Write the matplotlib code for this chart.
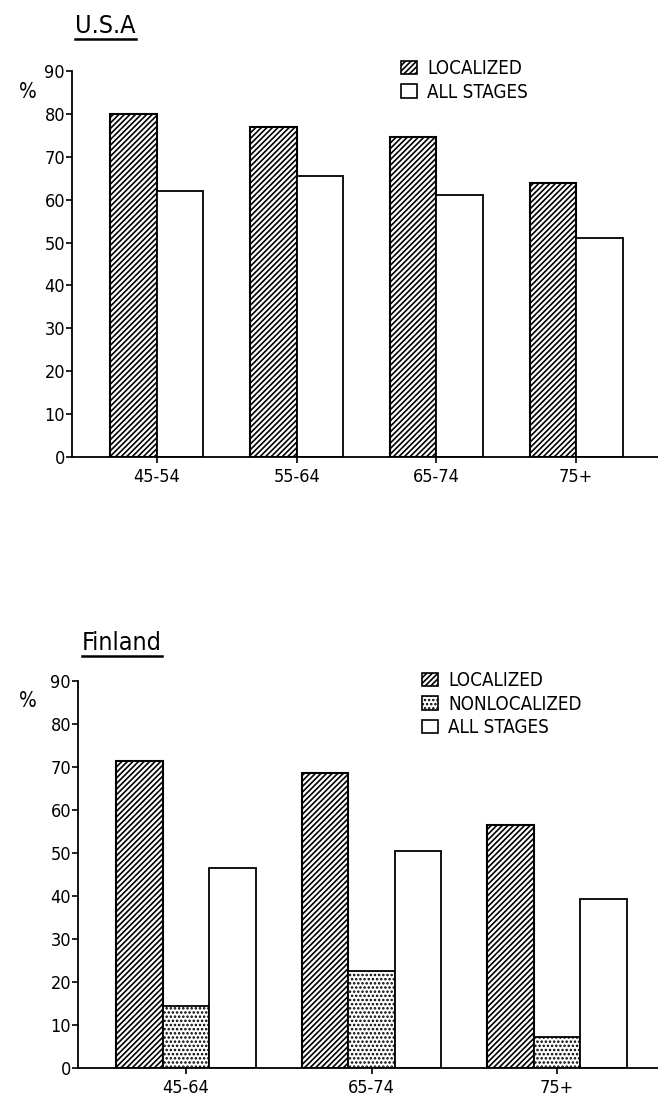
import matplotlib
matplotlib.use('Agg')
import matplotlib.pyplot as plt
import numpy as np
from matplotlib.patches import Patch
from matplotlib.lines import Line2D

plt.rcParams['font.family'] = ['DejaVu Sans']
plt.rcParams['font.stretch'] = 'condensed'
plt.rcParams['hatch.linewidth'] = 1.2
plt.rcParams['hatch.color'] = 'black'

# U.S.A panel
usa_groups = ['45-54', '55-64', '65-74', '75+']
usa_localized = [80, 77, 74.5, 64]
usa_all_stages = [62, 65.5, 61, 51]

# Finland panel
fin_groups = ['45-64', '65-74', '75+']
fin_localized = [71.3, 68.7, 56.5]
fin_nonlocalized = [14.4, 22.6, 7.3]
fin_all_stages = [46.6, 50.5, 39.3]

yticks = np.arange(0, 91, 10)

W, H = 658, 1098
fig = plt.figure(figsize=(W / 100, H / 100), dpi=100)
fig.patch.set_facecolor('white')

HATCH_LOC = '//////'
HATCH_NON = '....'


def style_axis(ax):
    ax.spines['top'].set_visible(False)
    ax.spines['right'].set_visible(False)
    ax.spines['left'].set_linewidth(1.3)
    ax.spines['bottom'].set_linewidth(1.3)
    ax.set_ylim(0, 90)
    ax.set_yticks(yticks)
    ax.tick_params(axis='y', direction='out', length=4, width=1.2, pad=1, labelsize=13)
    ax.tick_params(axis='x', direction='out', length=4, width=1.2, pad=4, labelsize=13)


def underlined_title(txt, x, y):
    t = fig.text(x / W, 1 - y / H, txt, fontsize=18, ha='left', va='baseline')
    fig.canvas.draw()
    bb = t.get_window_extent().transformed(fig.transFigure.inverted())
    fig.add_artist(Line2D([bb.x0, bb.x1], [bb.y0 - 1 / H, bb.y0 - 1 / H],
                          transform=fig.transFigure, color='black', lw=1.8))


def legend_box(ax, handles, labels, x, y):
    ax.legend(handles, labels, loc='upper left',
              bbox_to_anchor=(x / W, 1 - y / H), bbox_transform=fig.transFigure,
              frameon=False, fontsize=13.5, handlelength=0.85, handleheight=0.75,
              handletextpad=0.55, labelspacing=0.24, borderpad=0, borderaxespad=0)


# ---------------- U.S.A ----------------
ax1 = fig.add_axes([72 / W, (H - 457) / H, (W - 72) / W, (457 - 71) / H])
x1 = np.arange(len(usa_groups))
w1 = 0.333
ax1.bar(x1 - w1 / 2, usa_localized, w1, facecolor='white', edgecolor='black',
        hatch=HATCH_LOC, linewidth=1.5)
ax1.bar(x1 + w1 / 2, usa_all_stages, w1, facecolor='white', edgecolor='black',
        linewidth=1.3)
style_axis(ax1)
ax1.set_xlim(-0.608, 3.586)
ax1.set_xticks(x1)
ax1.set_xticklabels(usa_groups)

h1 = [Patch(facecolor='white', edgecolor='black', hatch=HATCH_LOC, lw=1.2),
      Patch(facecolor='white', edgecolor='black', lw=1.2)]
legend_box(ax1, h1, ['LOCALIZED', 'ALL STAGES'], 401, 59)

fig.text(28 / W, 1 - 92 / H, '%', fontsize=15, ha='center', va='center')
underlined_title('U.S.A', 75, 33)

# ---------------- Finland ----------------
ax2 = fig.add_axes([78 / W, (H - 1068) / H, (W - 78) / W, (1068 - 681) / H])
x2 = np.arange(len(fin_groups))
w2 = 0.25
ax2.bar(x2 - w2, fin_localized, w2, facecolor='white', edgecolor='black',
        hatch=HATCH_LOC, linewidth=1.5)
ax2.bar(x2, fin_nonlocalized, w2, facecolor='white', edgecolor='black',
        hatch=HATCH_NON, linewidth=1.3)
ax2.bar(x2 + w2, fin_all_stages, w2, facecolor='white', edgecolor='black',
        linewidth=1.3)
style_axis(ax2)
ax2.set_xlim(-0.582, 2.544)
ax2.set_xticks(x2)
ax2.set_xticklabels(fin_groups)

h2 = [Patch(facecolor='white', edgecolor='black', hatch=HATCH_LOC, lw=1.2),
      Patch(facecolor='white', edgecolor='black', hatch=HATCH_NON, lw=1.2),
      Patch(facecolor='white', edgecolor='black', lw=1.2)]
legend_box(ax2, h2, ['LOCALIZED', 'NONLOCALIZED', 'ALL STAGES'], 422, 671)

fig.text(28 / W, 1 - 701 / H, '%', fontsize=15, ha='center', va='center')
underlined_title('Finland', 82, 650)

plt.savefig('out.png', dpi=100)
